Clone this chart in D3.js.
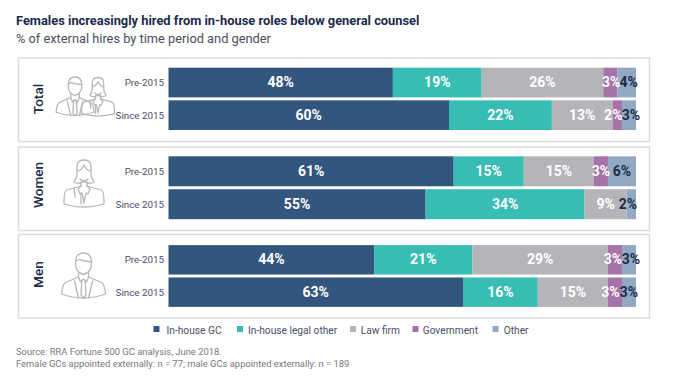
<!DOCTYPE html>
<html>
<head>
<meta charset="utf-8">
<script src="https://cdn.jsdelivr.net/npm/d3@7"></script>
<style>
  html, body { margin: 0; padding: 0; background: #fff; }
  svg { display: block; }
  text { font-family: Roboto, "Noto Sans", sans-serif; }
  .icon path { fill: none; stroke: #b8b8bb; stroke-width: 1.3; stroke-linejoin: round; stroke-linecap: round; }
</style>
</head>
<body>
<div id="chart"></div>
<script>
const categories = ["In-house GC", "In-house legal other", "Law firm", "Government", "Other"];
const colors = ["#33567f", "#38bdb4", "#b5b5b9", "#a573a8", "#93a9c3"];
const periods = ["Pre-2015", "Since 2015"];
const groups = ["Total", "Women", "Men"];

const totalPre = [48, 19, 26, 3, 4];
const totalSince = [60, 22, 13, 2, 3];
const womenPre = [61, 15, 15, 3, 6];
const womenSince = [55, 34, 9, 0, 2];
const menPre = [44, 21, 29, 3, 3];
const menSince = [63, 16, 15, 3, 3];
const groupValues = [[totalPre, totalSince], [womenPre, womenSince], [menPre, menSince]];

const title = "Females increasingly hired from in-house roles below general counsel";
const subtitle = "% of external hires by time period and gender";
const sourceLines = [
    "Source: RRA Fortune 500 GC analysis, June 2018.",
    "Female GCs appointed externally: n = 77; male GCs appointed externally: n = 189"
];

// the small end labels sit off-centre in the original so they don't collide
const labelNudge = {
    "Total|Pre-2015": { 3: 1, 4: 2 },
    "Total|Since 2015": { 3: -4, 4: 2 },
    "Women|Since 2015": { 4: -3.5 },
    "Men|Pre-2015": { 3: -2, 4: 2 },
    "Men|Since 2015": { 3: -4.5, 4: 0 }
};

const width = 700, height = 377;
const svg = d3.select("#chart").append("svg").attr("width", width).attr("height", height);

svg.append("text").attr("x", 16).attr("y", 25)
    .attr("font-size", 12.85).attr("font-weight", 700).attr("fill", "#1c2b4a").text(title);
svg.append("text").attr("x", 16).attr("y", 43)
    .attr("font-size", 12.8).attr("fill", "#4a4f5c").text(subtitle);

const x = d3.scaleLinear().domain([0, 100]).range([168.5, 636]);
const panelTops = [58, 147, 234.5];
const panelH = 83.5;
const barRanges = [[9.7, 72], [9.3, 72.2], [10.6, 72.4]];
const labelY = [41, 38, 40];

const manIcon = [
    "M-8,10C-8,2 -4,0 0,0C4,0 8,2 8,10C8,15 6,20 0,21.5C-6,20 -8,15 -8,10Z",
    "M-8,9Q-4,5 -3,7Q2,8 8,9",
    "M-5,19L-5,24L-18,29.5Q-21,31 -22,41Q0,49 22,41Q21,31 18,29.5L5,24L5,19",
    "M-5,24L-3,29L0,26L3,29L5,24",
    "M-1.6,27.5L-2.5,42M1.6,27.5L2.5,42M-2.5,42L0,45L2.5,42",
    "M-9,28L-5,45M9,28L5,45"
];
const womanIcon = [
    "M-7,14C-7,6 -8,0 0,0C8,0 7,6 7,14C7,18 9,20 10,22C6,24 3,23 2,22L-2,22C-3,23 -6,24 -10,22C-9,20 -7,18 -7,14Z",
    "M-6,11Q-2,10 0,5Q2,10 6,11",
    "M-4,19Q0,23 4,19",
    "M-3,22L-3,26L-17,30Q-20,31 -20,41L-20,44Q0,50 20,44L20,41Q20,31 17,30L3,26L3,22",
    "M-3,26L-6,29L-4,34L-2,33L0,43L2,33L4,34L6,29L3,26",
    "M-3,33L-3,44M-10,28L-9,37"
];

function drawIcon(parent, paths, px, py, scale) {
    const icon = parent.append("g").attr("class", "icon")
        .attr("transform", `translate(${px},${py}) scale(${scale})`);
    icon.selectAll("path").data(paths).join("path")
        .attr("d", d => d)
        .attr("vector-effect", "non-scaling-stroke");
}

groups.forEach((group, gi) => {
    const top = panelTops[gi];
    const g = svg.append("g").attr("transform", `translate(0,${top})`);

    g.append("rect").attr("x", 18.5).attr("y", 0).attr("width", 631).attr("height", panelH)
        .attr("fill", "#fff").attr("stroke", "#dcdcde").attr("stroke-width", 1.5);

    g.append("text")
        .attr("transform", `translate(43,${labelY[gi]}) rotate(-90)`)
        .attr("text-anchor", "middle")
        .attr("font-size", 13.6).attr("font-weight", 500).attr("fill", "#1c2b4a")
        .text(group);

    if (group === "Total") {
        drawIcon(g, womanIcon, 98, 19.5, 0.82);
        drawIcon(g, manIcon, 75, 19, 0.86);
    } else if (group === "Women") {
        drawIcon(g, womanIcon, 84, 13, 1);
    } else {
        drawIcon(g, manIcon, 83.5, 18.5, 1);
    }

    const y = d3.scaleBand().domain(periods).range(barRanges[gi]).paddingInner(0.09);

    periods.forEach((period, pi) => {
        const values = groupValues[gi][pi];
        const starts = d3.cumsum([0, ...values]);
        const nudge = labelNudge[group + "|" + period] || {};

        g.append("text")
            .attr("x", 164).attr("y", y(period) + y.bandwidth() / 2 + 3.5)
            .attr("text-anchor", "end").attr("font-size", 9.8).attr("fill", "#4a4f68")
            .text(period);

        g.selectAll(null).data(values).join("rect")
            .attr("x", (d, i) => x(starts[i]))
            .attr("y", y(period))
            .attr("width", d => x(d) - x(0))
            .attr("height", y.bandwidth())
            .attr("fill", (d, i) => colors[i]);

        g.selectAll(null).data(values.map((v, i) => ({ v, i }))).join("text")
            .filter(d => d.v > 0)
            .attr("x", d => x(starts[d.i] + d.v / 2) + (nudge[d.i] || 0))
            .attr("y", y(period) + y.bandwidth() / 2 + 4.5)
            .attr("text-anchor", "middle")
            .attr("font-size", 14).attr("font-weight", 700)
            .attr("fill", d => d.i === 4 ? "#1c2b4a" : "#fff")
            .text(d => d.v + "%");
    });
});

// legend
const legendX = [153.5, 237, 350, 412.5, 492.5];
const legendTextX = [166.5, 248, 360.7, 422.7, 503.7];
categories.forEach((c, i) => {
    svg.append("rect").attr("x", legendX[i]).attr("y", 326).attr("width", 6).attr("height", 6).attr("fill", colors[i]);
    svg.append("text").attr("x", legendTextX[i]).attr("y", 333.5)
        .attr("font-size", 10.2).attr("fill", "#4a4f68").text(c);
});

sourceLines.forEach((line, i) => {
    svg.append("text").attr("x", 16).attr("y", 355 + i * 12)
        .attr("font-size", 9.4).attr("fill", "#77787c").text(line);
});
</script>
</body>
</html>
